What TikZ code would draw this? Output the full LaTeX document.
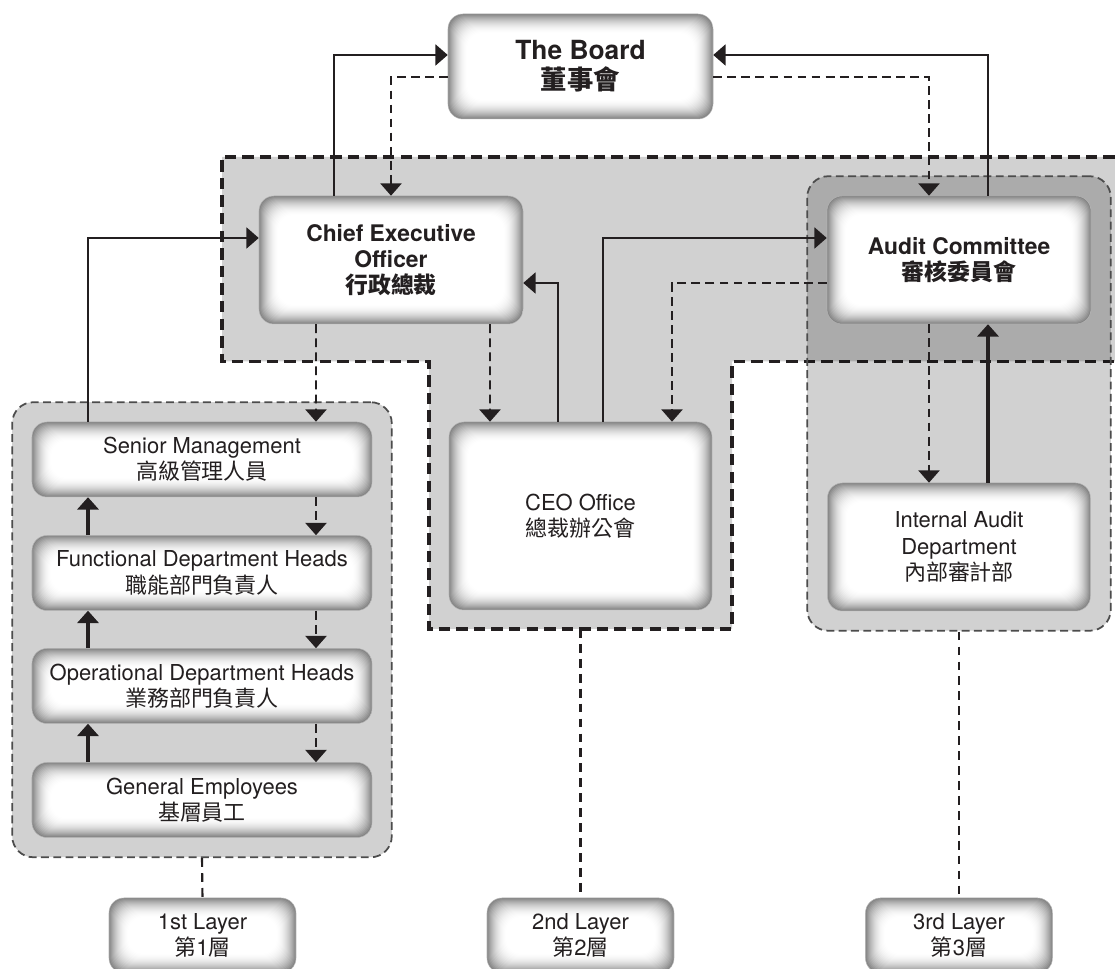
\documentclass[tikz,border=0pt]{standalone}
\usepackage{fontspec}
\setmainfont{TeX Gyre Heros}
\newfontfamily\cjk{Noto Sans CJK TC}
\usepackage{xcolor}
\usepackage{tikz}
\usetikzlibrary{arrows.meta,backgrounds,fit}

\definecolor{ink}{RGB}{35,31,32}

\tikzset{
  glowbox/.style={draw=black!30, line width=0.3pt, rounded corners=0.3cm, align=center,
    text=ink, inner sep=0pt, font=\fontsize{12.5pt}{15pt}\selectfont,
    path picture={
      \foreach \k in {0,...,19}{
        \pgfmathsetmacro\dk{48*(1-\k/20)^2}
        \fill[black!\dk, rounded corners=0.3cm]
          ([shift={(\k*0.02cm,\k*0.02cm)}]path picture bounding box.south west) rectangle
          ([shift={(-\k*0.02cm,-\k*0.02cm)}]path picture bounding box.north east);
      }}},
  headbox/.style={glowbox, font=\fontsize{13pt}{15pt}\selectfont\bfseries},
  solidarrow/.style={draw=ink, line width=0.9pt, -{Triangle[width=12pt,length=7pt]}},
  thickarrow/.style={solidarrow, line width=1.8pt},
  dasharrow/.style={draw=ink, line width=1.1pt, dash pattern=on 5pt off 3pt,
    -{Triangle[width=12pt,length=7pt]}},
  layerline/.style={draw=ink, line width=1.2pt, dash pattern=on 5pt off 3.5pt},
  grpbox/.style={draw=black!70, line width=1pt, dash pattern=on 4.5pt off 2.5pt,
    fill=black, fill opacity=0.18, rounded corners=0.42cm, inner sep=0.39cm},
  treg/.style={fill=black, fill opacity=0.18},
  tline/.style={draw=ink, line width=2pt, dash pattern=on 6.5pt off 3.5pt}
}

\begin{document}
\begin{tikzpicture}
\useasboundingbox (0,0) rectangle (22.3,19.38);
\clip (0,0) rectangle (22.3,19.38);

% top
\node (board) at (11.61,18.05) [headbox, font=\fontsize{15pt}{17pt}\selectfont\bfseries,
  minimum width=5.3cm, minimum height=2.1cm] {The Board\\{\cjk 董事會}};
\node (ceo) at (7.82,14.18) [headbox, minimum width=5.28cm, minimum height=2.56cm]
  {Chief Executive\\Officer\\{\cjk 行政總裁}};
\node (audit) at (19.18,14.18) [headbox, minimum width=5.28cm, minimum height=2.56cm]
  {Audit Committee\\{\cjk 審核委員會}};

% middle
\node (office) at (11.61,9.06) [glowbox, minimum width=5.26cm, minimum height=3.76cm]
  {CEO Office\\{\cjk 總裁辦公會}};
\node (internal) at (19.18,8.44) [glowbox, minimum width=5.26cm, minimum height=2.56cm]
  {Internal Audit\\Department\\{\cjk 內部審計部}};

% left stack
\node (senior) at (4.04,10.19) [glowbox, minimum width=6.8cm, minimum height=1.5cm]
  {Senior Management\\{\cjk 高級管理人員}};
\node (func) at (4.04,7.92) [glowbox, minimum width=6.8cm, minimum height=1.5cm]
  {Functional Department Heads\\{\cjk 職能部門負責人}};
\node (oper) at (4.04,5.66) [glowbox, minimum width=6.8cm, minimum height=1.5cm]
  {Operational Department Heads\\{\cjk 業務部門負責人}};
\node (general) at (4.04,3.38) [glowbox, minimum width=6.8cm, minimum height=1.5cm]
  {General Employees\\{\cjk 基層員工}};

% layers
\node (layer1) at (4.05,0.67) [glowbox, minimum width=3.74cm, minimum height=1.5cm]
  {1st Layer\\{\cjk 第}1{\cjk 層}};
\node (layer2) at (11.61,0.67) [glowbox, minimum width=3.74cm, minimum height=1.5cm]
  {2nd Layer\\{\cjk 第}2{\cjk 層}};
\node (layer3) at (19.18,0.67) [glowbox, minimum width=3.74cm, minimum height=1.5cm]
  {3rd Layer\\{\cjk 第}3{\cjk 層}};

\begin{scope}[on background layer]
\clip (0,0) rectangle (22.3,19.38);
\fill [treg] (4.44,16.24) -- (23,16.24) -- (23,12.15) -- (14.64,12.15) -- (14.64,6.8)
  -- (8.58,6.8) -- (8.58,12.15) -- (4.44,12.15) -- cycle;
\draw [tline] (23,16.24) -- (4.44,16.24) -- (4.44,12.15) -- (8.58,12.15) -- (8.58,6.8)
  -- (14.64,6.8) -- (14.64,12.15) -- (23,12.15);
\node [grpbox, fit=(senior) (general)] (grp1) {};
\node [grpbox, fit=(audit) (internal)] (grp3) {};
\end{scope}

% board links
\draw [solidarrow] ([xshift=-1.14cm]ceo.north) |- ([yshift=0.23cm]board.west);
\draw [dasharrow] ([yshift=-0.21cm]board.west) -| (ceo.north);
\draw [solidarrow] ([xshift=0.58cm]audit.north) |- ([yshift=0.23cm]board.east);
\draw [dasharrow] ([yshift=-0.21cm]board.east) -| ([xshift=-0.6cm]audit.north);

% ceo links
\draw [solidarrow] ([xshift=-2.28cm]senior.north) |- ([yshift=0.44cm]ceo.west);
\draw [dasharrow] ([xshift=-1.5cm]ceo.south) -- ([xshift=2.28cm]senior.north);
\draw [dasharrow] ([xshift=1.98cm]ceo.south) -- ([xshift=-1.81cm]office.north);
\draw [solidarrow] ([xshift=-0.45cm]office.north) |- ([yshift=-0.46cm]ceo.east);

% audit links
\draw [solidarrow] ([xshift=0.45cm]office.north) |- ([yshift=0.44cm]audit.west);
\draw [dasharrow] ([yshift=-0.46cm]audit.west) -| ([xshift=1.83cm]office.north);
\draw [dasharrow] ([xshift=-0.6cm]audit.south) -- ([xshift=-0.6cm]internal.north);
\draw [thickarrow] ([xshift=0.58cm]internal.north) -- ([xshift=0.58cm]audit.south);

% left stack
\draw [thickarrow] ([xshift=-2.28cm]func.north) -- ([xshift=-2.28cm]senior.south);
\draw [thickarrow] ([xshift=-2.28cm]oper.north) -- ([xshift=-2.28cm]func.south);
\draw [thickarrow] ([xshift=-2.28cm]general.north) -- ([xshift=-2.28cm]oper.south);
\draw [dasharrow] ([xshift=2.28cm]senior.south) -- ([xshift=2.28cm]func.north);
\draw [dasharrow] ([xshift=2.28cm]func.south) -- ([xshift=2.28cm]oper.north);
\draw [dasharrow] ([xshift=2.28cm]oper.south) -- ([xshift=2.28cm]general.north);

% layer lines
\coordinate (tbot) at (11.61,6.8);
\draw [layerline] (grp1.south) -- (layer1.north);
\draw [layerline] (tbot) -- (layer2.north);
\draw [layerline] (grp3.south) -- (layer3.north);
\end{tikzpicture}
\end{document}
